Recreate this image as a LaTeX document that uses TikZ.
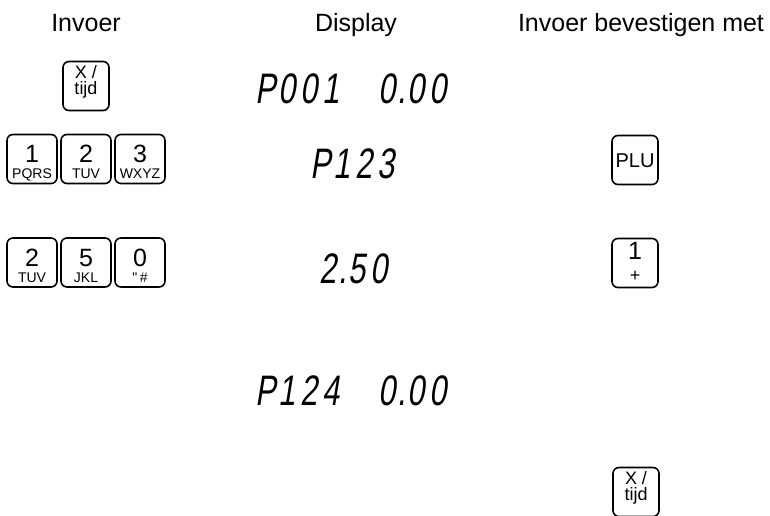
\documentclass[tikz,border=0pt]{standalone}
\usepackage{fontspec}
\setmainfont{Liberation Sans}
\newfontfamily\plainsans{Liberation Sans}
\newfontfamily\lcdfont[FakeSlant=0.16,FakeStretch=0.72]{Liberation Sans}
\newcommand\lc[1]{\makebox[16.5pt][c]{#1}}
\newcommand\lcdot{\makebox[5.25pt][c]{.}}
\tikzset{
  hdr/.style={font=\fontsize{18.75}{22}\selectfont, inner sep=0pt, anchor=base},
  keybox/.style={draw, line width=1.2pt, rounded corners=4.5pt, minimum width=37.5pt,
    minimum height=36.75pt, inner sep=0pt, outer sep=0pt},
  onekey/.style={keybox, minimum width=34.5pt},
  keydig/.style={font=\fontsize{18.75}{20}\selectfont, inner sep=0pt, anchor=base},
  keysub/.style={font=\fontsize{10.5}{12}\selectfont, inner sep=0pt, anchor=base},
  keytxt/.style={font=\fontsize{13.5}{15}\selectfont, inner sep=0pt, anchor=base},
  lcd/.style={font=\lcdfont\fontsize{32}{34}\selectfont, inner sep=0pt, anchor=base west},
}
\newcommand\numkey[5]{%
  \node[keybox] (#1) at (#2,#3) {};
  \node[keydig] (#1d) at ([yshift=-21pt]#1.north) {#4};
  \node[keysub] (#1s) at ([yshift=-33pt]#1.north) {#5};
}
\newcommand\tijdkey[3]{%
  \node[onekey] (#1) at (#2,#3) {};
  \node[keytxt] (#1a) at ([yshift=-12.75pt]#1.north) {X /};
  \node[keytxt] (#1b) at ([yshift=-24.75pt]#1.north) {tijd};
}
\begin{document}
\begin{tikzpicture}[x=0.75pt,y=-0.75pt]
\useasboundingbox (0,0) rectangle (770,515);
% headers
\node[hdr] (h1) at (86,31) {Invoer};
\node[hdr] (h2) at (356,31) {Display};
\node[hdr] (h3) at (641,31) {Invoer bevestigen met};
% row 1
\tijdkey{k1}{86}{86}
\node[lcd] (d1) at (254,103) {\lc{P}\lc{0}\lc{0}\lc{1}\hspace{25.5pt}\lc{0}\lcdot\lc{0}\lc{0}};
% row 2
\numkey{k21}{32}{159}{1}{PQRS}
\numkey{k22}{86}{159}{2}{TUV}
\numkey{k23}{140}{159}{3}{WXYZ}
\node[lcd] (d2) at (309,178) {\lc{P}\lc{1}\lc{2}\lc{3}};
\node[onekey] (plu) at (635,160) {};
\node[font=\fontsize{15}{17}\selectfont, inner sep=0pt, anchor=base] (plut) at ([yshift=-5.25pt]plu.center) {PLU};
% row 3
\numkey{k31}{32}{262.5}{2}{TUV}
\numkey{k32}{86}{262.5}{5}{JKL}
\numkey{k33}{140}{262.5}{0}{{\plainsans"\,\#}}
\node[lcd] (d3) at (317,283) {\lc{2}\lcdot\lc{5}\lc{0}};
\node[onekey] (plus) at (635,263) {};
\node[keydig] (plusd) at ([yshift=-16pt]plus.north) {1};
\node[font=\fontsize{13.5}{15}\selectfont, inner sep=0pt, anchor=base] (pluss) at ([yshift=-32.5pt]plus.north) {+};
% row 4
\node[lcd] (d4) at (254,405) {\lc{P}\lc{1}\lc{2}\lc{4}\hspace{25.5pt}\lc{0}\lcdot\lc{0}\lc{0}};
% row 5
\tijdkey{k5}{636}{492}
\end{tikzpicture}
\end{document}
